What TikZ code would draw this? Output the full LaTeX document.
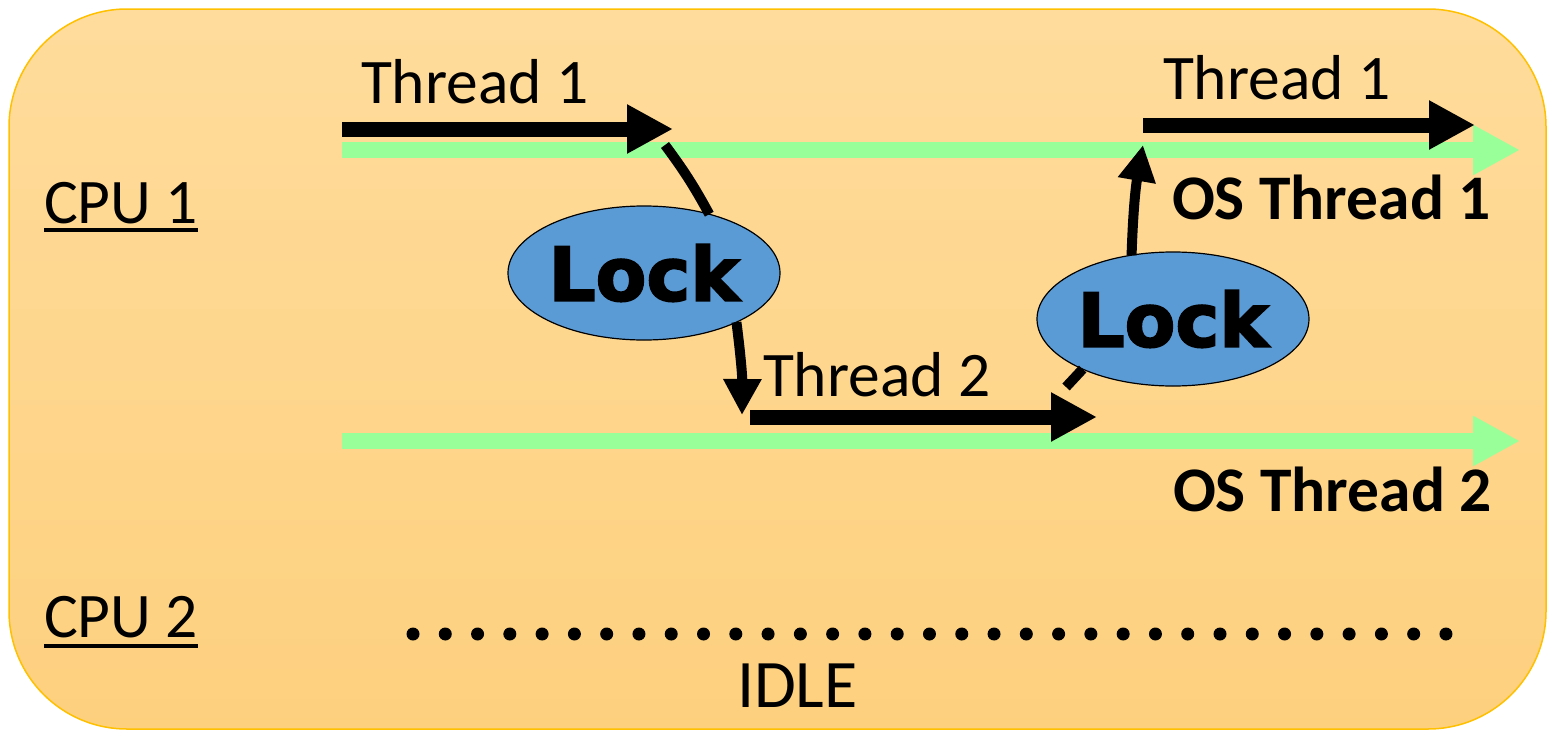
\documentclass[tikz,border=0pt]{standalone}
\usepackage{fontspec}
\setmainfont{Carlito}
\newfontfamily\lockfont[FakeBold=2.5]{DejaVu Sans Bold}
\usetikzlibrary{arrows.meta, shapes.geometric}

\definecolor{panelTop}{HTML}{FFDC9C}
\definecolor{panelBot}{HTML}{FDD07E}
\definecolor{panelEdge}{HTML}{FFC000}
\definecolor{lockBlue}{HTML}{5B9BD5}
\definecolor{osGreen}{HTML}{99FF99}

\begin{document}
\begin{tikzpicture}[x=1pt, y=-1pt,
    every node/.style={inner sep=0pt, outer sep=0pt},
    thread/.style={line width=15pt, -{Triangle[length=46pt, width=46pt]}},
    osline/.style={osGreen, line width=16pt, -{Triangle[length=47pt, width=47pt]}},
    hop/.style={line width=10pt},
    hoparrow/.style={line width=10pt, -{Triangle[length=36pt, width=36pt]}},
    lock/.style={ellipse, draw=black, line width=1.2pt, fill=lockBlue,
        minimum width=272pt, minimum height=134pt,
        font=\lockfont\fontsize{74}{80}\selectfont},
    lbl/.style={anchor=base west, font=\fontsize{63.5}{70}\selectfont},
    oslbl/.style={anchor=base west, font=\bfseries\fontsize{63.5}{70}\selectfont}]
    \useasboundingbox (0,0) rectangle (1551,731);

    % Panel
    \shadedraw[top color=panelTop, bottom color=panelBot, draw=panelEdge,
        line width=1.5pt, rounded corners=118pt] (9,9) rectangle (1546,729);

    % CPU labels
    \node[lbl] (cpu1) at (44,223) {CPU 1};
    \draw[line width=3.5pt] ([yshift=-7pt]cpu1.base west) -- ([yshift=-7pt]cpu1.base east);
    \node[lbl] (cpu2) at (44,637) {CPU 2};
    \draw[line width=3.5pt] ([yshift=-9pt]cpu2.base west) -- ([yshift=-9pt]cpu2.base east);

    % OS threads
    \coordinate (os1s) at (342,150);
    \coordinate (os1e) at (1520,150);
    \coordinate (os2s) at (342,441);
    \coordinate (os2e) at (1520,441);
    \draw[osline] (os1s) -- (os1e);
    \draw[osline] (os2s) -- (os2e);
    \node[oslbl] (os1) at (1172,219) {OS Thread 1};
    \node[oslbl] (os2) at (1173,511) {OS Thread 2};

    % Green threads
    \coordinate (t1s) at (342,129);
    \coordinate (t1e) at (673,129);
    \coordinate (t2s) at (750,417);
    \coordinate (t2e) at (1097,417);
    \coordinate (t3s) at (1143,125);
    \coordinate (t3e) at (1475,125);
    \draw[thread] (t1s) -- (t1e);
    \draw[thread] (t2s) -- (t2e);
    \draw[thread] (t3s) -- (t3e);
    \node[lbl] (t1) at (361,103) {Thread 1};
    \node[lbl] (t2) at (763,396) {Thread 2};
    \node[lbl] (t3) at (1163,99) {Thread 1};

    % Locks
    \node[lock] (lockA) at (644,273) {Lock};
    \node[lock] (lockB) at (1173,319) {Lock};

    % Hand-offs
    \coordinate (hopA) at (665,145);
    \coordinate (dropA) at (742,415);
    \coordinate (hopB) at (1066,387);
    \coordinate (riseB) at (1143,145);
    \draw[hop] (hopA) to[bend left=4] (lockA.42);
    \draw[hoparrow] (lockA.-28) to[bend left=4] (dropA);
    \draw[hop] (hopB) -- (lockB.209);
    \draw[hoparrow] (lockB.123) to[bend left=4] (riseB);

    % Idle CPU 2
    \foreach \i in {0,...,32}
        \fill (413+\i*32.28,634) circle (6.5pt);
    \node[anchor=base west, font=\fontsize{68}{75}\selectfont] (idle) at (737,707) {IDLE};
\end{tikzpicture}
\end{document}
